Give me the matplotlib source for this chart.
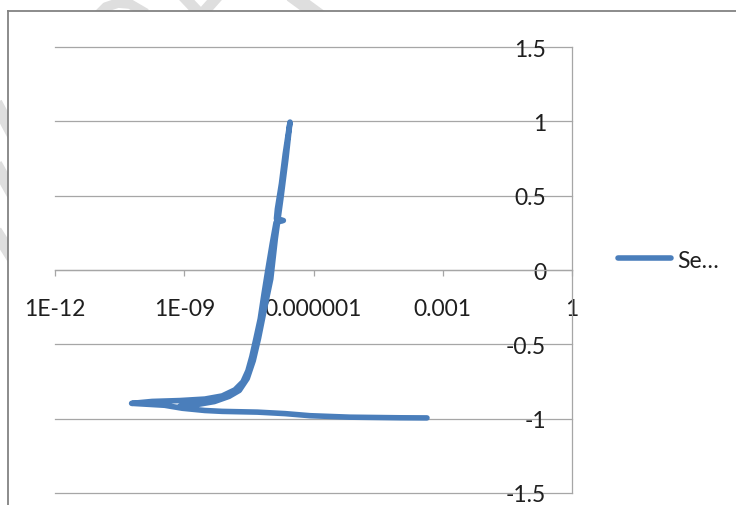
import matplotlib
matplotlib.use("Agg")
import matplotlib.pyplot as plt
from matplotlib.lines import Line2D
from matplotlib.patches import Rectangle
from matplotlib.ticker import NullLocator
from matplotlib.transforms import Affine2D

plt.rcParams['font.family'] = ['Lato', 'DejaVu Sans']

W, H = 736, 506

# current (A) and potential (V), in recorded order
current = [4.3e-4, 1.0e-4, 7.0e-6, 8.3e-7, 2.2e-7, 5.0e-8, 7.6e-9, 3.0e-9, 9.0e-10, 3.5e-10, 6.0e-11,
           1.8e-10, 8.0e-10, 3.0e-9, 7.6e-9, 1.5e-8, 2.3e-8, 3.0e-8, 3.7e-8, 4.6e-8, 5.8e-8, 7.1e-8,
           8.7e-8, 1.1e-7, 1.35e-7, 2.0e-7, 1.38e-7, 1.45e-7, 1.8e-7, 2.2e-7, 2.6e-7, 2.85e-7,
           2.3e-7, 1.75e-7, 1.3e-7, 1.02e-7, 6.9e-8, 5.3e-8, 4.0e-8, 2.9e-8, 1.9e-8, 1.1e-8, 5.0e-9,
           2.0e-9, 8.0e-10]
potential = [-0.995, -0.994, -0.990, -0.980, -0.966, -0.956, -0.951, -0.945, -0.930, -0.910, -0.897,
             -0.884, -0.878, -0.868, -0.847, -0.806, -0.752, -0.678, -0.583, -0.462, -0.328, -0.160,
             0.000, 0.177, 0.320, 0.333, 0.345, 0.410, 0.580, 0.780, 0.920, 0.995,
             0.750, 0.480, 0.210, -0.060, -0.295, -0.460, -0.610, -0.730, -0.810, -0.850, -0.885,
             -0.905, -0.915]

x_ticks = [1e-12, 1e-9, 1e-6, 1e-3, 1]
x_labels = ['1E-12', '1E-09', '0.000001', '0.001', '1']
y_ticks = [-1.5, -1, -0.5, 0, 0.5, 1, 1.5]
y_labels = ['-1.5', '-1', '-0.5', '0', '0.5', '1', '1.5']
series_name = 'Se…'

blue = '#4A7EBB'
grid_col = '#a6a6a6'
text_col = '#1f1f1f'

fig = plt.figure(figsize=(W / 100, H / 100), dpi=100)
px = Affine2D().scale(1 / W, -1 / H).translate(0, 1) + fig.transFigure

# faint background marks outside the chart frame
wm = '#dedede'
for xs, ys, w in [([98, 106, 118, 130, 142], [16, 8, 4, 5, 12], 7),
                  ([183, 200], [-3, 15], 8), ([218, 202], [-3, 15], 8),
                  ([291, 317], [-4, 15], 10),
                  ([-8, 12], [96, 134], 9), ([-8, 12], [158, 194], 9), ([-8, 12], [226, 258], 9)]:
    fig.add_artist(Line2D(xs, ys, transform=px, color=wm, lw=w, zorder=-3))

# chart area with its frame
fig.add_artist(Rectangle((8, 12), W, H, transform=px, facecolor='white', edgecolor='none', zorder=-2))
fig.add_artist(Line2D([8, W + 5], [12, 12], transform=px, color='#828282', lw=1.3, zorder=-1))
fig.add_artist(Line2D([8, 8], [12, H + 5], transform=px, color='#828282', lw=1.3, zorder=-1))

ax = fig.add_axes([55 / W, 1 - 494 / H, 517 / W, 446 / H])
ax.set_facecolor('none')
ax.set_xscale('log')
ax.set_xlim(1e-12, 1)
ax.set_ylim(-1.5, 1.5)

ax.plot(current, potential, color=blue, lw=4.0, solid_capstyle='round',
        solid_joinstyle='round', label=series_name, zorder=3)

# horizontal gridlines
ax.set_yticks(y_ticks)
ax.set_yticklabels(y_labels)
ax.yaxis.grid(True, color=grid_col, lw=0.9)
for gl in ax.get_ygridlines():
    gl.set_clip_on(False)
ax.set_axisbelow(True)

# x axis crosses at 0, y axis sits at the right end
for s in ['left', 'top']:
    ax.spines[s].set_visible(False)
ax.spines['bottom'].set_position(('data', 0))
ax.spines['bottom'].set_color(grid_col)
ax.spines['bottom'].set_linewidth(0.9)
ax.spines['right'].set_color(grid_col)
ax.spines['right'].set_linewidth(0.9)

ax.set_xticks(x_ticks)
ax.set_xticklabels(x_labels)
ax.xaxis.set_minor_locator(NullLocator())
ax.tick_params(axis='x', direction='out', length=4.5, width=0.9, color=grid_col,
               pad=16, labelsize=16.5, labelcolor=text_col)

ax.yaxis.tick_right()
ax.tick_params(axis='y', length=0, pad=-18.7, labelsize=16.5, labelcolor=text_col)
for lbl in ax.get_yticklabels():
    lbl.set_horizontalalignment('right')

ax.legend(loc='center left', bbox_to_anchor=(618 / W, 1 - 261 / H), bbox_transform=fig.transFigure,
          frameon=False, handlelength=2.3, handletextpad=0.3, borderpad=0, borderaxespad=0,
          fontsize=16.5, labelcolor=text_col)

fig.savefig('out.png', dpi=100)
